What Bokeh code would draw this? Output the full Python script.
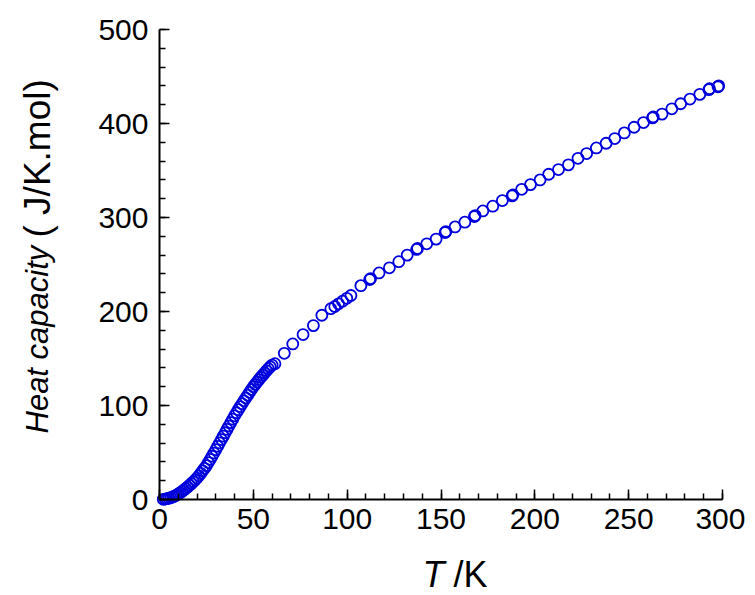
import numpy as np
from bokeh.plotting import figure
from bokeh.models import Range1d, Label, SingleIntervalTicker, LinearAxis
from bokeh.embed import file_html
from bokeh.resources import INLINE

# Low-temperature dense measurements (K, J/K.mol)
T_low = [2, 3, 4, 5, 6, 7, 8, 9, 10, 11, 12, 13, 14, 15, 16, 17, 18, 19, 20,
         21, 22, 23, 24, 25, 26, 27, 28, 29, 30, 31, 32, 33, 34, 35, 36, 37, 38,
         39, 40, 41, 42, 43, 44, 45, 46, 47, 48, 49, 50, 51, 52, 53, 54, 55, 56,
         57, 58, 59, 60]
C_low = [0.2, 0.5, 0.9, 1.4, 2.0, 2.7, 3.6, 4.7, 5.9, 7.2, 8.6, 10.1, 11.7, 13.4,
         15.1, 16.9, 18.8, 20.8, 22.8, 25.2, 27.8, 30.5, 33.2, 36.0, 39.3, 42.6,
         46.0, 49.4, 53.0, 56.6, 60.2, 63.8, 67.4, 71.0, 74.6, 78.2, 81.8, 85.4,
         89.0, 92.3, 95.6, 98.8, 101.9, 105.0, 108.0, 111.0, 114.0, 117.0, 120.0,
         122.5, 125.0, 127.5, 130.0, 132.3, 134.6, 136.9, 139.2, 141.2, 143.0]

# Higher-temperature measurements
T_high = [61.5, 66.5, 71.0, 76.5, 82.0, 86.5, 91.3, 93.4, 95.4, 97.5, 99.8, 102.0,
          107.3, 112.0, 117.0, 122.5, 127.5, 132.0, 137.0, 142.4, 147.4, 152.2,
          157.5, 162.7, 167.8, 172.3, 177.6, 182.7, 187.9, 193.0, 197.7, 202.8,
          207.4, 212.6, 217.9, 223.0, 227.6, 232.8, 238.0, 242.6, 247.7, 252.9,
          257.9, 262.7, 267.8, 273.0, 277.7, 282.7, 287.9, 292.7, 297.6]
C_high = [144.5, 155.5, 165.5, 175.5, 185.0, 196.0, 203.0, 205.3, 208.2, 211.0,
          214.0, 217.0, 227.5, 234.0, 241.0, 246.5, 253.0, 260.0, 266.0, 272.0,
          277.0, 284.0, 290.0, 295.0, 301.0, 307.0, 312.0, 318.0, 323.0, 330.0,
          335.0, 340.0, 346.0, 351.0, 356.0, 363.0, 368.0, 374.0, 379.0, 384.0,
          390.0, 396.0, 401.0, 406.0, 410.0, 415.6, 421.0, 426.0, 431.0, 436.0,
          439.0]

# Repeated measurements (overlapping points)
T_rep = [112.5, 137.5, 152.6, 168.2, 188.3, 263.1, 293.1, 298.0]
C_rep = [235.0, 267.0, 285.0, 302.0, 324.0, 407.0, 437.0, 440.0]

T_all = T_low + T_high + T_rep
C_all = C_low + C_high + C_rep

W, H = 745, 595
# pixel layout of the axes inside the canvas
X0PX, X1PX = 159.0, 722.0      # canvas x of T = 0 and T = 300
Y0PX, Y1PX = 499.0, 29.0       # canvas y (from top) of C = 0 and C = 500
sx = (X1PX - X0PX) / 300.0
sy = (Y0PX - Y1PX) / 500.0
x_range = Range1d(-X0PX / sx, 300 + (W - X1PX) / sx)
y_range = Range1d(-(H - Y0PX) / sy, 500 + Y1PX / sy)

p = figure(width=W, height=H, output_backend="svg", toolbar_location=None,
           x_range=x_range, y_range=y_range,
           x_axis_type=None, y_axis_type=None,
           min_border=0, min_border_left=0, min_border_right=0,
           min_border_top=0, min_border_bottom=0)
p.outline_line_color = None
p.background_fill_color = "white"
p.border_fill_color = "white"

xaxis = LinearAxis(fixed_location=0, bounds=(0, 300),
                   ticker=SingleIntervalTicker(interval=50, num_minor_ticks=5))
yaxis = LinearAxis(fixed_location=0, bounds=(0, 500),
                   ticker=SingleIntervalTicker(interval=100, num_minor_ticks=5))
p.add_layout(xaxis, "below")
p.add_layout(yaxis, "left")

for ax in (xaxis, yaxis):
    ax.axis_line_color = "black"
    ax.axis_line_width = 2
    ax.major_tick_line_color = "black"
    ax.minor_tick_line_color = "black"
    ax.major_tick_line_width = 1.5
    ax.minor_tick_line_width = 1.5
    ax.major_tick_in = 10
    ax.major_tick_out = 0
    ax.minor_tick_in = 6
    ax.minor_tick_out = 0
    ax.major_label_text_font = "Liberation Sans"
    ax.major_label_text_font_size = "30px"
    ax.major_label_text_color = "black"
    ax.axis_label = None

xaxis.major_label_standoff = 9
yaxis.major_label_standoff = 11

p.scatter(T_all, C_all, marker="circle", size=11, fill_color=None,
          line_color="#0000DD", line_width=1.8)

# x-axis title: italic T followed by upright /K (screen units from bottom-left)
p.add_layout(Label(x=422, y=21, x_units="screen", y_units="screen", text="T",
                   text_font="Liberation Sans", text_font_style="italic",
                   text_color="black",
                   text_font_size="36px", text_align="left", text_baseline="alphabetic"))
p.add_layout(Label(x=453, y=21, x_units="screen", y_units="screen", text="/K",
                   text_font="Liberation Sans", text_font_style="normal",
                   text_color="black",
                   text_font_size="36px", text_align="left", text_baseline="alphabetic"))

# y-axis title: italic "Heat capacity" followed by upright "( J/K.mol)"
p.add_layout(Label(x=37, y=H - 433, x_units="screen", y_units="screen", text="Heat capacity",
                   text_font="Liberation Sans", text_font_style="italic",
                   text_color="black",
                   text_font_size="31px", text_align="left", text_baseline="middle",
                   angle=np.pi / 2))
p.add_layout(Label(x=37, y=H - 237, x_units="screen", y_units="screen",
                   text="( J/K.mol)",
                   text_font="Liberation Sans", text_font_style="normal",
                   text_color="black",
                   text_font_size="37px", text_align="left", text_baseline="middle",
                   angle=np.pi / 2))

open("out.html", "w").write(file_html(p, INLINE))
